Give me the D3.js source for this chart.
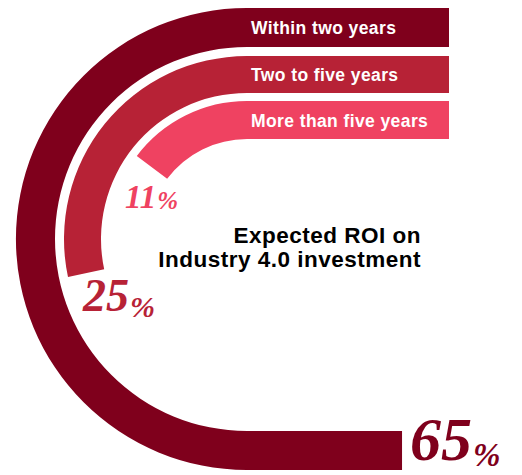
<!DOCTYPE html>
<html>
<head>
<meta charset="utf-8">
<script src="https://cdn.jsdelivr.net/npm/d3@7"></script>
<style>
  body { margin: 0; background: #fff; }
  svg { display: block; }
</style>
</head>
<body>
<div class="chart"></div>
<script>
// data
const categories = ["Within two years", "Two to five years", "More than five years"];
const values = [65, 25, 11];
const colors = ["#7f001c", "#b72236", "#ef4261"];
const titleLines = ["Expected ROI on", "Industry 4.0 investment"];

const width = 522, height = 475;
const cx = 247, cy = 239, xRight = 449;

// band radii, outer band first
const bands = [[192, 231], [146, 183], [100, 138]];

// how far each band sweeps round (degrees); past 180 it runs on as a flat tail
const sweep = d3.scaleLinear()
    .domain([0, 11, 25, 65])
    .range([0, 53, 102, 222]);

const svg = d3.select(".chart").append("svg")
    .attr("width", width)
    .attr("height", height);

function bandPath(v, r0, r1) {
  const s = sweep(v);
  const a = Math.min(s, 180) * Math.PI / 180;
  const top = -Math.PI / 2;
  const p = d3.path();
  p.moveTo(xRight, cy - r1);
  p.lineTo(cx, cy - r1);
  p.arc(cx, cy, r1, top, top - a, true);
  if (s > 180) {
    const tail = (s - 180) * Math.PI / 180 * (r0 + r1) / 2;
    p.lineTo(cx + tail, cy + r1);
    p.lineTo(cx + tail, cy + r0);
    p.lineTo(cx, cy + r0);
  } else {
    p.lineTo(cx + r0 * Math.cos(top - a), cy + r0 * Math.sin(top - a));
  }
  p.arc(cx, cy, r0, top - a, top, false);
  p.lineTo(xRight, cy - r0);
  p.closePath();
  return p.toString();
}

svg.append("g").selectAll("path")
  .data(values)
  .enter().append("path")
    .attr("d", (d, i) => bandPath(d, bands[i][0], bands[i][1]))
    .attr("fill", (d, i) => colors[i]);

// category names on the flat part of each band
svg.append("g").selectAll("text")
  .data(categories)
  .enter().append("text")
    .attr("x", 251)
    .attr("y", (d, i) => cy - (bands[i][0] + bands[i][1]) / 2 + 6.5)
    .attr("fill", "#fff")
    .style("font-family", "'Liberation Sans', Arial, sans-serif")
    .style("font-weight", "bold")
    .style("font-size", "17.5px")
    .style("letter-spacing", "0.4px")
    .text(d => d);

// title in the middle
svg.append("g").selectAll("text")
  .data(titleLines)
  .enter().append("text")
    .attr("x", 421)
    .attr("y", (d, i) => 243 + i * 24)
    .attr("text-anchor", "end")
    .attr("fill", "#000")
    .style("font-family", "'Liberation Sans', Arial, sans-serif")
    .style("font-weight", "bold")
    .style("font-size", "22.5px")
    .style("letter-spacing", "0.5px")
    .text(d => d);

// percentage labels at the band ends
const labelPos = [
  {x: 410, y: 460, size: 62, pct: 33, drop: 6},
  {x: 83, y: 311, size: 46, pct: 30, drop: 6},
  {x: 125, y: 208, size: 33, pct: 25, drop: 1}
];

const pct = svg.append("g").selectAll("text")
  .data(values)
  .enter().append("text")
    .attr("x", (d, i) => labelPos[i].x)
    .attr("y", (d, i) => labelPos[i].y)
    .attr("fill", (d, i) => colors[i])
    .style("font-family", "'Liberation Serif', 'Times New Roman', serif")
    .style("font-weight", "bold")
    .style("font-style", "italic");

pct.append("tspan")
    .style("font-size", (d, i) => labelPos[i].size + "px")
    .text(d => d);

pct.append("tspan")
    .attr("dx", 1)
    .attr("dy", (d, i) => labelPos[i].drop)
    .style("font-size", (d, i) => labelPos[i].pct + "px")
    .text("%");
</script>
</body>
</html>
